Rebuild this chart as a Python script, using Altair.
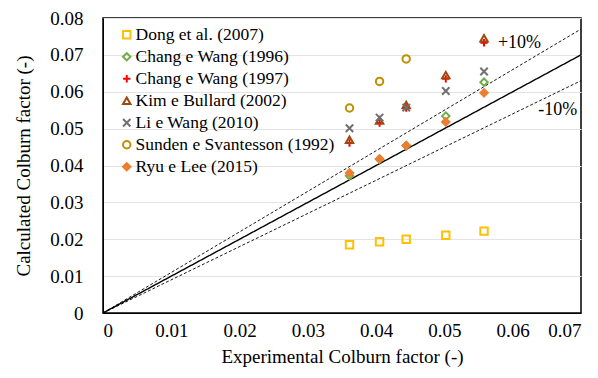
import altair as alt
import pandas as pd

series = ["Dong et al. (2007)", "Chang e Wang (1996)", "Chang e Wang (1997)",
          "Kim e Bullard (2002)", "Li e Wang (2010)", "Sunden e Svantesson (1992)",
          "Ryu e Lee (2015)"]
exp_x = [0.0361, 0.0405, 0.0444, 0.0502, 0.0558]
dong = [0.0185, 0.0193, 0.0200, 0.0211, 0.0222]
chang96 = [0.0372, 0.0417, 0.0454, 0.0534, 0.0626]
chang97 = [0.0461, 0.0515, 0.0556, 0.0635, 0.0733]
kim = [0.0470, 0.0522, 0.0564, 0.0645, 0.0745]
li = [0.0501, 0.0530, 0.0557, 0.0602, 0.0655]
sunden = [0.0556, 0.0628, 0.0689]
ryu = [0.0380, 0.0418, 0.0454, 0.0518, 0.0597]

colors = ["#FFC000", "#70AD47", "#FF0000", "#9E480E", "#707070", "#BF8F00", "#ED7D31"]
fills = ["transparent", "transparent", "transparent", "transparent", "transparent",
         "transparent", "#ED7D31"]
shapes = ["square", "diamond", "M-1,0L1,0M0,-1L0,1", "triangle-up",
          "M-1,-1L1,1M-1,1L1,-1", "circle", "diamond"]

ref_x = [0.0, 0.07]
ref_equal = [0.0, 0.07]
ref_plus = [0.0, 0.077]
ref_minus = [0.0, 0.063]

labels_txt = ["+10%", "-10%"]
labels_x = [0.0610, 0.0666]
labels_y = [0.0731, 0.0550]

rows = []
for name, vals in zip(series, [dong, chang96, chang97, kim, li, sunden, ryu]):
    for xv, yv in zip(exp_x, vals):
        rows.append({"series": name, "x": xv, "y": yv})
pts = pd.DataFrame(rows)

FONT = "Liberation Serif"

xscale = alt.Scale(domain=[0, 0.07], nice=False, zero=True)
yscale = alt.Scale(domain=[0, 0.08], nice=False, zero=True)

lab_expr = "datum.value == 0 ? '0' : format(datum.value, '.2f')"

xaxis = alt.Axis(title="Experimental Colburn factor (-)", values=[i / 100 for i in range(8)],
                 labelExpr=lab_expr, grid=False, ticks=False, tickSize=0,
                 labelPadding=8, titlePadding=7, domainColor="#000000")
yaxis = alt.Axis(title="Calculated Colburn factor (-)", values=[i / 100 for i in range(9)],
                 labelExpr=lab_expr, grid=True, gridColor="#E3E3E3", ticks=False, tickSize=0,
                 labelPadding=20, titlePadding=16, domainColor="#000000")

def ref_line(yvals, dash, width):
    df = pd.DataFrame({"x": ref_x, "y": yvals})
    return alt.Chart(df).mark_line(color="#000000", strokeWidth=width,
                                   strokeDash=dash).encode(
        x=alt.X("x:Q", scale=xscale, axis=xaxis),
        y=alt.Y("y:Q", scale=yscale, axis=yaxis))

l1 = ref_line(ref_equal, [1, 0], 1.4)
l2 = ref_line(ref_plus, [3, 2], 0.9)
l3 = ref_line(ref_minus, [3, 2], 0.9)

leg = alt.Legend(title=None, orient="none", legendX=11, legendY=8)
points = alt.Chart(pts).mark_point(size=55, strokeWidth=2, opacity=1).encode(
    x=alt.X("x:Q", scale=xscale, axis=xaxis),
    y=alt.Y("y:Q", scale=yscale, axis=yaxis),
    stroke=alt.Stroke("series:N", scale=alt.Scale(domain=series, range=colors), legend=leg),
    fill=alt.Fill("series:N", scale=alt.Scale(domain=series, range=fills), legend=leg),
    shape=alt.Shape("series:N", scale=alt.Scale(domain=series, range=shapes), legend=leg),
)

tdf = pd.DataFrame({"t": labels_txt, "x": labels_x, "y": labels_y})
texts = alt.Chart(tdf).mark_text(font=FONT, fontSize=18, color="#000000").encode(
    x=alt.X("x:Q", scale=xscale, axis=xaxis),
    y=alt.Y("y:Q", scale=yscale, axis=yaxis),
    text="t:N")

chart = alt.layer(l1, l2, l3, points, texts).properties(
    width=478, height=295,
    autosize=alt.AutoSizeParams(type="none"),
    padding={"left": 95, "top": 10, "right": 4, "bottom": 57},
    background="white",
).configure_view(stroke="#000000", strokeWidth=1.5).configure_axis(
    labelFont=FONT, labelFontSize=19, labelColor="#000000",
    titleFont=FONT, titleFontSize=19, titleFontWeight="normal", titleColor="#000000",
).configure_legend(
    labelFont=FONT, labelFontSize=17.5, labelColor="#000000", rowPadding=3,
    labelOffset=0, symbolOffset=4, symbolStrokeWidth=2, symbolSize=55, labelLimit=400,
).configure_text(font=FONT)

chart.save("out.html", embed_options={"renderer": "svg", "actions": False})
